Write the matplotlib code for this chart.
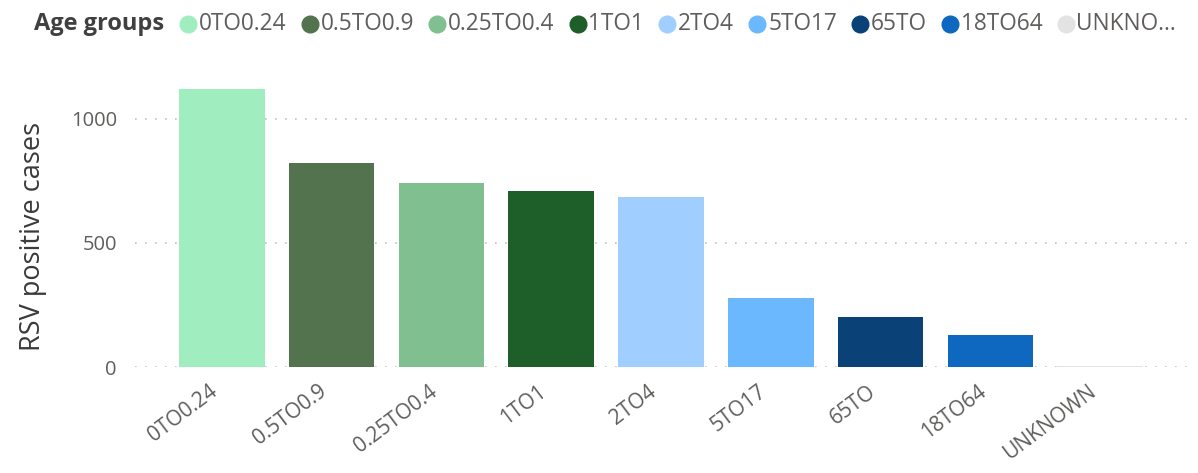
import matplotlib
matplotlib.use("Agg")
import matplotlib.pyplot as plt
from matplotlib.lines import Line2D

categories = ["0TO0.24", "0.5TO0.9", "0.25TO0.4", "1TO1", "2TO4", "5TO17", "65TO", "18TO64", "UNKNOWN"]
values = [1121, 823, 742, 710, 685, 278, 202, 129, 3]
colors = ["#A0EEC0", "#52734D", "#80C090", "#1E5E28", "#A0CFFF", "#6CB8FF", "#0A4277", "#0E68C0", "#E3E3E3"]
legend_labels = ["0TO0.24", "0.5TO0.9", "0.25TO0.4", "1TO1", "2TO4", "5TO17", "65TO", "18TO64", "UNKNO..."]
yticks = [0, 500, 1000]

FONT = "Open Sans"
plt.rcParams['font.family'] = [FONT, 'DejaVu Sans']

W, H = 1198, 473
fig = plt.figure(figsize=(W / 100, H / 100), dpi=100)
ax = fig.add_axes([135 / W, 1 - 367 / H, (1187 - 135) / W, (367 - 69.4) / H])

x = list(range(len(categories)))
ax.bar(x, values, width=0.78, color=colors, zorder=2)
ax.set_xlim(-0.79, len(categories) - 1 + 0.79)
ax.set_ylim(0, 1200)
ax.set_yticks(yticks)
ax.set_yticklabels([str(v) for v in yticks], fontsize=14.5, color="#605E5C")
# tick marks are hidden; shift label anchors slightly left of bar centres
ax.set_xticks([i - 0.12 for i in x])
ax.set_xticklabels(categories, rotation=37, ha="right", va="top", rotation_mode="anchor",
                   fontsize=15, color="#605E5C")
ax.tick_params(axis="both", length=0)
ax.tick_params(axis="x", pad=10)
ax.tick_params(axis="y", pad=13)
for s in ax.spines.values():
    s.set_visible(False)
ax.grid(axis="y", linestyle=(0, (1, 5)), color="#C0C0C0", linewidth=1.2, zorder=0)
ax.set_ylabel("RSV positive cases", fontsize=19.5, color="#3A3A3A")
ax.yaxis.set_label_coords(47 / W, 0.5, transform=fig.transFigure)

# legend
fig.canvas.draw()
renderer = fig.canvas.get_renderer()
ly = 1 - 24 / H
t = fig.text(34 / W, ly, "Age groups", fontsize=17, fontweight="bold", color="#404040",
             va="center", ha="left")
bb = t.get_window_extent(renderer)
cx = bb.x1 + 24
for lab, col in zip(legend_labels, colors):
    fig.add_artist(Line2D([cx / W], [ly], marker="o", markersize=12, color=col,
                          linestyle="none", transform=fig.transFigure))
    tt = fig.text((cx + 11) / W, ly, lab, fontsize=16.3, color="#605E5C", va="center", ha="left")
    bb = tt.get_window_extent(renderer)
    cx = bb.x1 + 23

fig.savefig("out.png", dpi=100)
